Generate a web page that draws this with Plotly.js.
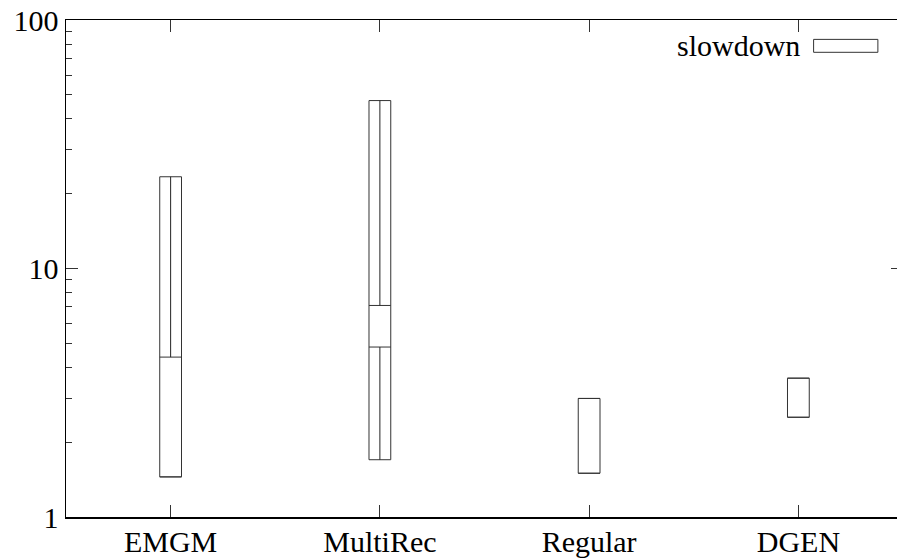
<!DOCTYPE html>
<html>
<head>
<meta charset="utf-8">
<script src="https://cdn.plot.ly/plotly-3.0.1.min.js"></script>
<style>
html, body { margin: 0; padding: 0; overflow: hidden; background: #fff; }
#chart { width: 910px; height: 560px; }
</style>
</head>
<body>
<div id="chart"></div>
<script>
// Data
const categories = ["EMGM", "MultiRec", "Regular", "DGEN"];
const positions = [1, 2, 3, 4];
const lowValues = [1.45, 1.70, 1.50, 2.52];
const openValues = [1.45, 4.83, 1.50, 2.52];
const closeValues = [4.40, 7.10, 3.00, 3.62];
const highValues = [23.4, 47.4, 3.00, 3.62];
const yTickVals = [1, 10, 100];
const yTickText = ["1", "10", "100"];
const seriesName = "slowdown";

const halfWidth = 0.052;
const lineStyle = { color: "#333", width: 1 };
const traces = [];

positions.forEach((p, i) => {
  const lo = lowValues[i], op = openValues[i], cl = closeValues[i], hi = highValues[i];
  const xl = p - halfWidth, xr = p + halfWidth;
  traces.push({
    type: "scatter", mode: "lines", showlegend: false, hoverinfo: "skip",
    x: [xl, xr, xr, xl, xl], y: [lo, lo, hi, hi, lo], line: lineStyle
  });
  traces.push({
    type: "scatter", mode: "lines", showlegend: false, hoverinfo: "skip",
    x: [xl, xr, null, xl, xr], y: [op, op, null, cl, cl], line: lineStyle
  });
  const wx = [], wy = [];
  if (lo < op) { wx.push(p, p, null); wy.push(lo, op, null); }
  if (hi > cl) { wx.push(p, p, null); wy.push(cl, hi, null); }
  if (wx.length) {
    traces.push({
      type: "scatter", mode: "lines", showlegend: false, hoverinfo: "skip",
      x: wx, y: wy, line: { color: "#222", width: 1 }
    });
  }
});

const fontFamily = "'Liberation Serif', 'Times New Roman', 'DejaVu Serif', serif";
const layout = {
  width: 910, height: 560,
  margin: { l: 65.5, r: 6.5, t: 20, b: 42.7 },
  paper_bgcolor: "#fff", plot_bgcolor: "#fff",
  font: { family: fontFamily, size: 30, color: "#000" },
  showlegend: false,
  xaxis: {
    range: [0.5, 4.5], tickvals: positions, ticktext: categories,
    ticks: "inside", ticklen: 12, tickcolor: "#333", tickwidth: 1,
    ticklabelstandoff: -3,
    showline: true, linecolor: "#000", linewidth: 1.5, mirror: "ticks",
    showgrid: false, zeroline: false,
    tickfont: { family: fontFamily, size: 30, color: "#000" }
  },
  yaxis: {
    type: "log", range: [0, 2], tickvals: yTickVals, ticktext: yTickText,
    ticks: "inside", ticklen: 12, tickcolor: "#333", tickwidth: 1,
    minor: { ticks: "inside", ticklen: 6, dtick: "D1", tickcolor: "#333", tickwidth: 1, showgrid: false },
    showline: true, linecolor: "#000", linewidth: 1.5, mirror: "ticks",
    showgrid: false, zeroline: false,
    tickfont: { family: fontFamily, size: 30, color: "#000" }
  },
  annotations: [{
    xref: "paper", yref: "paper", x: 0.879, y: 0.9477,
    xanchor: "right", yanchor: "middle", showarrow: false,
    text: seriesName, font: { family: fontFamily, size: 30, color: "#000" }
  }],
  shapes: [{
    type: "rect", xref: "paper", yref: "paper",
    x0: 0.8932, x1: 0.970, y0: 0.935, y1: 0.961,
    line: { color: "#333", width: 1 }, fillcolor: "rgba(0,0,0,0)"
  }]
};

Plotly.newPlot("chart", traces, layout, { displayModeBar: false, staticPlot: true });
</script>
</body>
</html>
